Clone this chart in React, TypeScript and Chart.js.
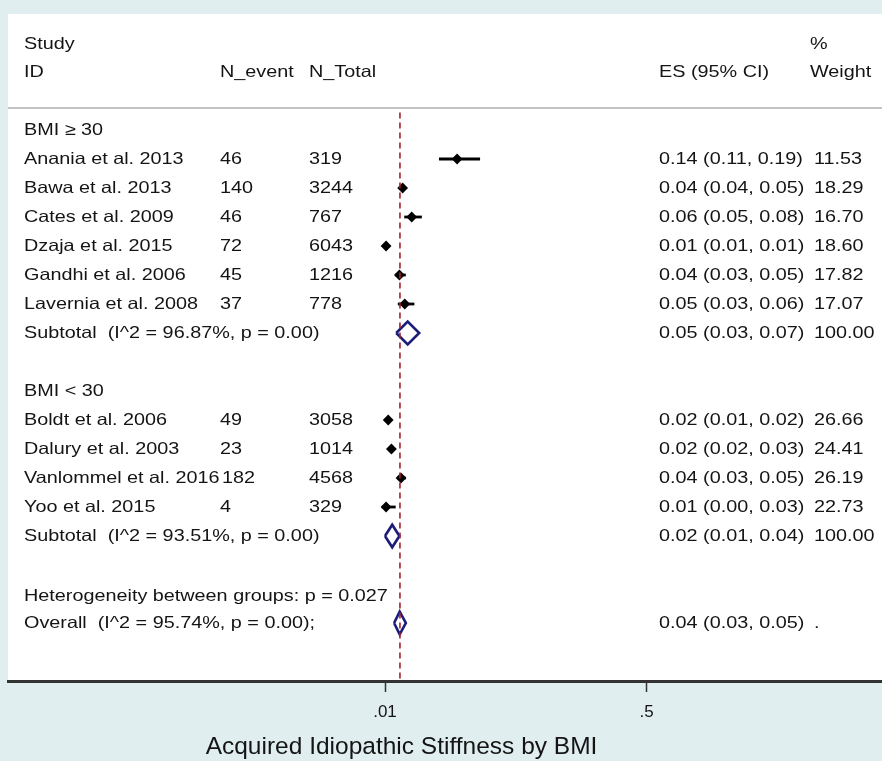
import React, { useEffect, useRef } from "react";
import { Chart, registerables } from "chart.js";

Chart.register(...registerables);

// ---------- data ----------
const studyNames = [
  "Anania et al. 2013",
  "Bawa et al. 2013",
  "Cates et al. 2009",
  "Dzaja et al. 2015",
  "Gandhi et al. 2006",
  "Lavernia et al. 2008",
  "Boldt et al. 2006",
  "Dalury et al. 2003",
  "Vanlommel et al. 2016",
  "Yoo et al. 2015",
];
const studyRows = [1, 2, 3, 4, 5, 6, 10, 11, 12, 13];
const nEvent = ["46", "140", "46", "72", "45", "37", "49", "23", "182", "4"];
const nTotal = ["319", "3244", "767", "6043", "1216", "778", "3058", "1014", "4568", "329"];
const studyES = [0.145, 0.043, 0.06, 0.012, 0.037, 0.047, 0.016, 0.022, 0.04, 0.012];
const studyLo = [0.111, 0.038, 0.046, 0.01, 0.029, 0.034, 0.012, 0.017, 0.033, 0.004];
const studyHi = [0.188, 0.048, 0.079, 0.013, 0.049, 0.065, 0.02, 0.029, 0.049, 0.03];
const studyESText = [
  "0.14 (0.11, 0.19)",
  "0.04 (0.04, 0.05)",
  "0.06 (0.05, 0.08)",
  "0.01 (0.01, 0.01)",
  "0.04 (0.03, 0.05)",
  "0.05 (0.03, 0.06)",
  "0.02 (0.01, 0.02)",
  "0.02 (0.02, 0.03)",
  "0.04 (0.03, 0.05)",
  "0.01 (0.00, 0.03)",
];
const studyWeight = ["11.53", "18.29", "16.70", "18.60", "17.82", "17.07", "26.66", "24.41", "26.19", "22.73"];

const groupLabels = ["BMI \u2265 30", "BMI < 30"];
const groupRows = [0, 9];

const pooledLabels = [
  "Subtotal  (I^2 = 96.87%, p = 0.00)",
  "Subtotal  (I^2 = 93.51%, p = 0.00)",
  "Overall  (I^2 = 95.74%, p = 0.00);",
];
const pooledRows = [7, 14, 17];
const pooledES = [0.0525, 0.0235, 0.0375];
const pooledLo = [0.031, 0.01, 0.027];
const pooledHi = [0.074, 0.037, 0.049];
const pooledESText = ["0.05 (0.03, 0.07)", "0.02 (0.01, 0.04)", "0.04 (0.03, 0.05)"];
const pooledWeight = ["100.00", "100.00", "."];

const hetText = "Heterogeneity between groups: p = 0.027";
const hetRow = 16;

const overallLine = 0.038;
const tickValues = [0.01, 0.5];
const tickLabels = [".01", ".5"];
const axisTitle = "Acquired Idiopathic Stiffness by BMI";

// ---------- style ----------
const TEAL = "#e1eef0";
const TEXT = "#141414";
const NAVY = "#1c1c78";
const RED = "#a3212e";
const FONT = "'Liberation Sans', Arial, sans-serif";
const SX = 1.2;

function stretchText(ctx: CanvasRenderingContext2D, text: string, x: number, y: number) {
  ctx.save();
  ctx.translate(x, y);
  ctx.scale(SX, 1);
  ctx.fillText(text, 0, 0);
  ctx.restore();
}

const forestPlugin = {
  id: "forestDecor",
  beforeDraw(chart: any) {
    const { ctx, chartArea, width, height } = chart;
    ctx.save();
    ctx.fillStyle = TEAL;
    ctx.fillRect(0, 0, width, height);
    ctx.fillStyle = "#ffffff";
    ctx.fillRect(chartArea.left, chartArea.top, chartArea.right - chartArea.left, chartArea.bottom - chartArea.top);
    const ys = chart.scales.y;
    const sepY = ys.getPixelForValue(-0.76);
    ctx.strokeStyle = "#c4c4c4";
    ctx.lineWidth = 2;
    ctx.beginPath();
    ctx.moveTo(chartArea.left, sepY);
    ctx.lineTo(chartArea.right, sepY);
    ctx.stroke();
    ctx.restore();
  },
  afterDraw(chart: any) {
    const { ctx } = chart;
    const ys = chart.scales.y;
    const py = (k: number) => ys.getPixelForValue(k);
    ctx.save();
    ctx.fillStyle = TEXT;
    ctx.font = `16.5px ${FONT}`;
    ctx.textAlign = "left";
    ctx.textBaseline = "middle";
    const cStudy = 24;
    const cEv = 220;
    const cTot = 309;
    const cES = 659;
    const cW = 814;

    stretchText(ctx, "Study", cStudy, py(-2.95));
    stretchText(ctx, "%", 810, py(-2.95));
    stretchText(ctx, "ID", cStudy, py(-2));
    stretchText(ctx, "N_event", cEv, py(-2));
    stretchText(ctx, "N_Total", cTot, py(-2));
    stretchText(ctx, "ES (95% CI)", cES, py(-2));
    stretchText(ctx, "Weight", 810, py(-2));

    groupLabels.forEach((g, i) => stretchText(ctx, g, cStudy, py(groupRows[i])));
    studyNames.forEach((n, i) => {
      const y = py(studyRows[i]);
      stretchText(ctx, n, cStudy, y);
      stretchText(ctx, nEvent[i], cEv + (nEvent[i] === "182" ? 2 : 0), y);
      stretchText(ctx, nTotal[i], cTot, y);
      stretchText(ctx, studyESText[i], cES, y);
      stretchText(ctx, studyWeight[i], cW, y);
    });
    pooledLabels.forEach((n, i) => {
      const y = py(pooledRows[i]);
      stretchText(ctx, n, cStudy, y);
      stretchText(ctx, pooledESText[i], cES, y);
      stretchText(ctx, pooledWeight[i], cW, y);
    });
    stretchText(ctx, hetText, cStudy, py(hetRow) + 2);

    ctx.font = `24.5px ${FONT}`;
    ctx.textAlign = "center";
    ctx.textBaseline = "alphabetic";
    ctx.fillText(axisTitle, 401.5, 754);
    ctx.restore();
  },
};

function diamond(es: number, lo: number, hi: number, row: number, h: number) {
  return [
    { x: lo, y: row },
    { x: es, y: row - h },
    { x: hi, y: row },
    { x: es, y: row + h },
    { x: lo, y: row },
  ];
}

export default function App() {
  const ref = useRef<HTMLCanvasElement>(null);
  useEffect(() => {
    document.body.style.margin = "0";
    document.body.style.background = TEAL;
    const canvas = ref.current;
    if (!canvas) return;

    const datasets: any[] = [];
    datasets.push({
      data: [
        { x: overallLine, y: -0.6 },
        { x: overallLine, y: 19 },
      ],
      showLine: true,
      borderColor: RED,
      borderWidth: 1.6,
      borderDash: [6, 4],
      pointRadius: 0,
    });
    studyRows.forEach((r, i) => {
      datasets.push({
        data: [
          { x: studyLo[i], y: r },
          { x: studyHi[i], y: r },
        ],
        showLine: true,
        borderColor: "#000",
        borderWidth: 2.8,
        pointRadius: 0,
      });
    });
    datasets.push({
      data: studyRows.map((r, i) => ({ x: studyES[i], y: r })),
      pointStyle: "rectRot",
      pointRadius: 5.4,
      backgroundColor: "#000",
      borderColor: "#000",
      borderWidth: 0,
      showLine: false,
    });
    pooledRows.forEach((r, i) => {
      datasets.push({
        data: diamond(pooledES[i], pooledLo[i], pooledHi[i], r, 0.39),
        showLine: true,
        borderColor: NAVY,
        borderWidth: 2.6,
        pointRadius: 0,
        tension: 0,
        fill: false,
      });
    });

    const chart = new Chart(canvas, {
      type: "scatter",
      data: { datasets },
      options: {
        animation: false,
        responsive: false,
        devicePixelRatio: 1,
        layout: { padding: { left: 8, top: 14, right: 0, bottom: 0 }, autoPadding: false },
        plugins: { legend: { display: false }, tooltip: { enabled: false } },
        scales: {
          x: {
            type: "linear",
            position: "bottom",
            min: (8 - 379.66) / 534.1,
            max: (882 - 379.66) / 534.1,
            afterBuildTicks: (scale: any) => {
              scale.ticks = tickValues.map((v) => ({ value: v }));
            },
            afterFit: (scale: any) => {
              scale.height = 80;
              scale.paddingLeft = 0;
              scale.paddingRight = 0;
            },
            ticks: {
              autoSkip: false,
              maxRotation: 0,
              padding: 10,
              color: TEXT,
              font: { family: FONT, size: 17 },
              callback: (_v: any, idx: number) => tickLabels[idx],
            },
            grid: {
              display: true,
              drawOnChartArea: false,
              drawTicks: true,
              tickLength: 11,
              tickColor: "#333",
              tickWidth: 1.5,
            },
            border: { display: true, color: "#333333", width: 3 },
          },
          y: {
            type: "linear",
            display: false,
            min: -4,
            max: 19,
            reverse: true,
          },
        },
      } as any,
      plugins: [forestPlugin],
    });
    return () => chart.destroy();
  }, []);

  return (
    <div style={{ width: 882, height: 761 }}>
      <canvas ref={ref} width={882} height={761} style={{ display: "block" }} />
    </div>
  );
}
